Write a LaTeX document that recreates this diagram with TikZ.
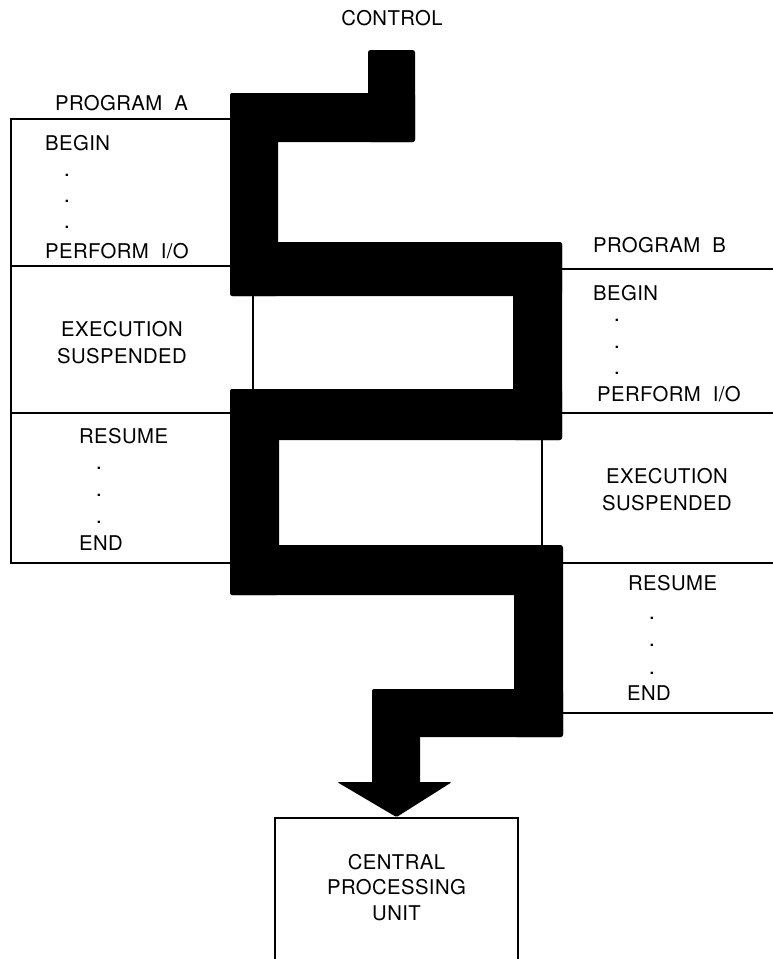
\documentclass[tikz,border=0pt]{standalone}
\usepackage{fontspec}
\setmainfont{TeX Gyre Heros}[LetterSpace=2, WordSpace=2]
\begin{document}
\begin{tikzpicture}[x=1pt,y=-1pt,
  lbl/.style={font=\fontsize{20.3}{25.5}\selectfont, inner sep=0pt, text height=14.6pt, text depth=0pt},
  lblw/.style={lbl, anchor=west},
  dotn/.style={font=\fontsize{22}{25.5}\selectfont, inner sep=0pt, anchor=center},
  thin/.style={line width=1.6pt, line cap=rect},
  flow/.style={fill=black, rounded corners=2.5pt}
]
\useasboundingbox (0,0) rectangle (773,959);

% ---- thick black control path ----
\fill[flow] (368,50) rectangle (415,142);
\fill[flow] (230,93) rectangle (415,142);
\fill[flow] (230,93) rectangle (278,296);
\fill[flow] (230,242) rectangle (562,296);
\fill[flow] (513,242) rectangle (562,440);
\fill[flow] (230,389) rectangle (562,440);
\fill[flow] (230,389) rectangle (279,595);
\fill[flow] (230,545) rectangle (562,595);
\fill[flow] (514,545) rectangle (563,737);
\fill[flow] (372,689) rectangle (563,737);
\fill[flow] (372,689) rectangle (420,784);

% ---- CPU box ----
\node[draw, line width=1.8pt, minimum width=243pt, minimum height=150pt, inner sep=0pt] (cpu) at (396.5,893) {};
\node[font=\fontsize{20.3}{25.5}\selectfont, align=center, inner sep=0pt] (cputxt) at (396.5,887.5) {CENTRAL\\PROCESSING\\UNIT};

% arrow head onto the CPU
\fill[rounded corners=1.5pt] (337,782) -- (452,782) -- (cpu.north) -- cycle;

% ---- Program A frame ----
\draw[thin] (230,119) -- (11,119) -- (11,563) -- (230,563);
\draw[thin] (11,266) -- (230,266);
\draw[thin] (11,413) -- (230,413);
\draw[thin] (253,296) -- (253,389);

% ---- Program B frame ----
\draw[thin] (562,269) -- (773,269);
\draw[thin] (562,413) -- (773,413);
\draw[thin] (563,563) -- (773,563);
\draw[thin] (563,713) -- (773,713);
\draw[thin] (542,440) -- (542,545);

% ---- texts ----
\node[lbl] (control) at (392,18) {CONTROL};

\node[lblw] (proga) at (55,103) {PROGRAM A};
\node[lblw] (begina) at (45,143) {BEGIN};
\node[dotn] (da1) at (67,175) {.};
\node[dotn] (da2) at (67,201) {.};
\node[dotn] (da3) at (67,227) {.};
\node[lblw] (perfa) at (45,251) {PERFORM I/O};
\node[lbl] (execa) at (122,329) {EXECUTION};
\node[lbl] (suspa) at (122,356) {SUSPENDED};
\node[lblw] (resa) at (79,436) {RESUME};
\node[dotn] (db1) at (99,468) {.};
\node[dotn] (db2) at (99,495) {.};
\node[dotn] (db3) at (99,522) {.};
\node[lblw] (enda) at (79,543) {END};

\node[lblw] (progb) at (593,245) {PROGRAM B};
\node[lblw] (beginb) at (593,293) {BEGIN};
\node[dotn] (dc1) at (617,320) {.};
\node[dotn] (dc2) at (617,347) {.};
\node[dotn] (dc3) at (617,373) {.};
\node[lblw] (perfb) at (597,394) {PERFORM I/O};
\node[lbl] (execb) at (667,476) {EXECUTION};
\node[lbl] (suspb) at (667,503) {SUSPENDED};
\node[lblw] (resb) at (628,583) {RESUME};
\node[dotn] (dd1) at (652,618) {.};
\node[dotn] (dd2) at (652,645) {.};
\node[dotn] (dd3) at (652,673) {.};
\node[lblw] (endb) at (627,693) {END};
\end{tikzpicture}
\end{document}
